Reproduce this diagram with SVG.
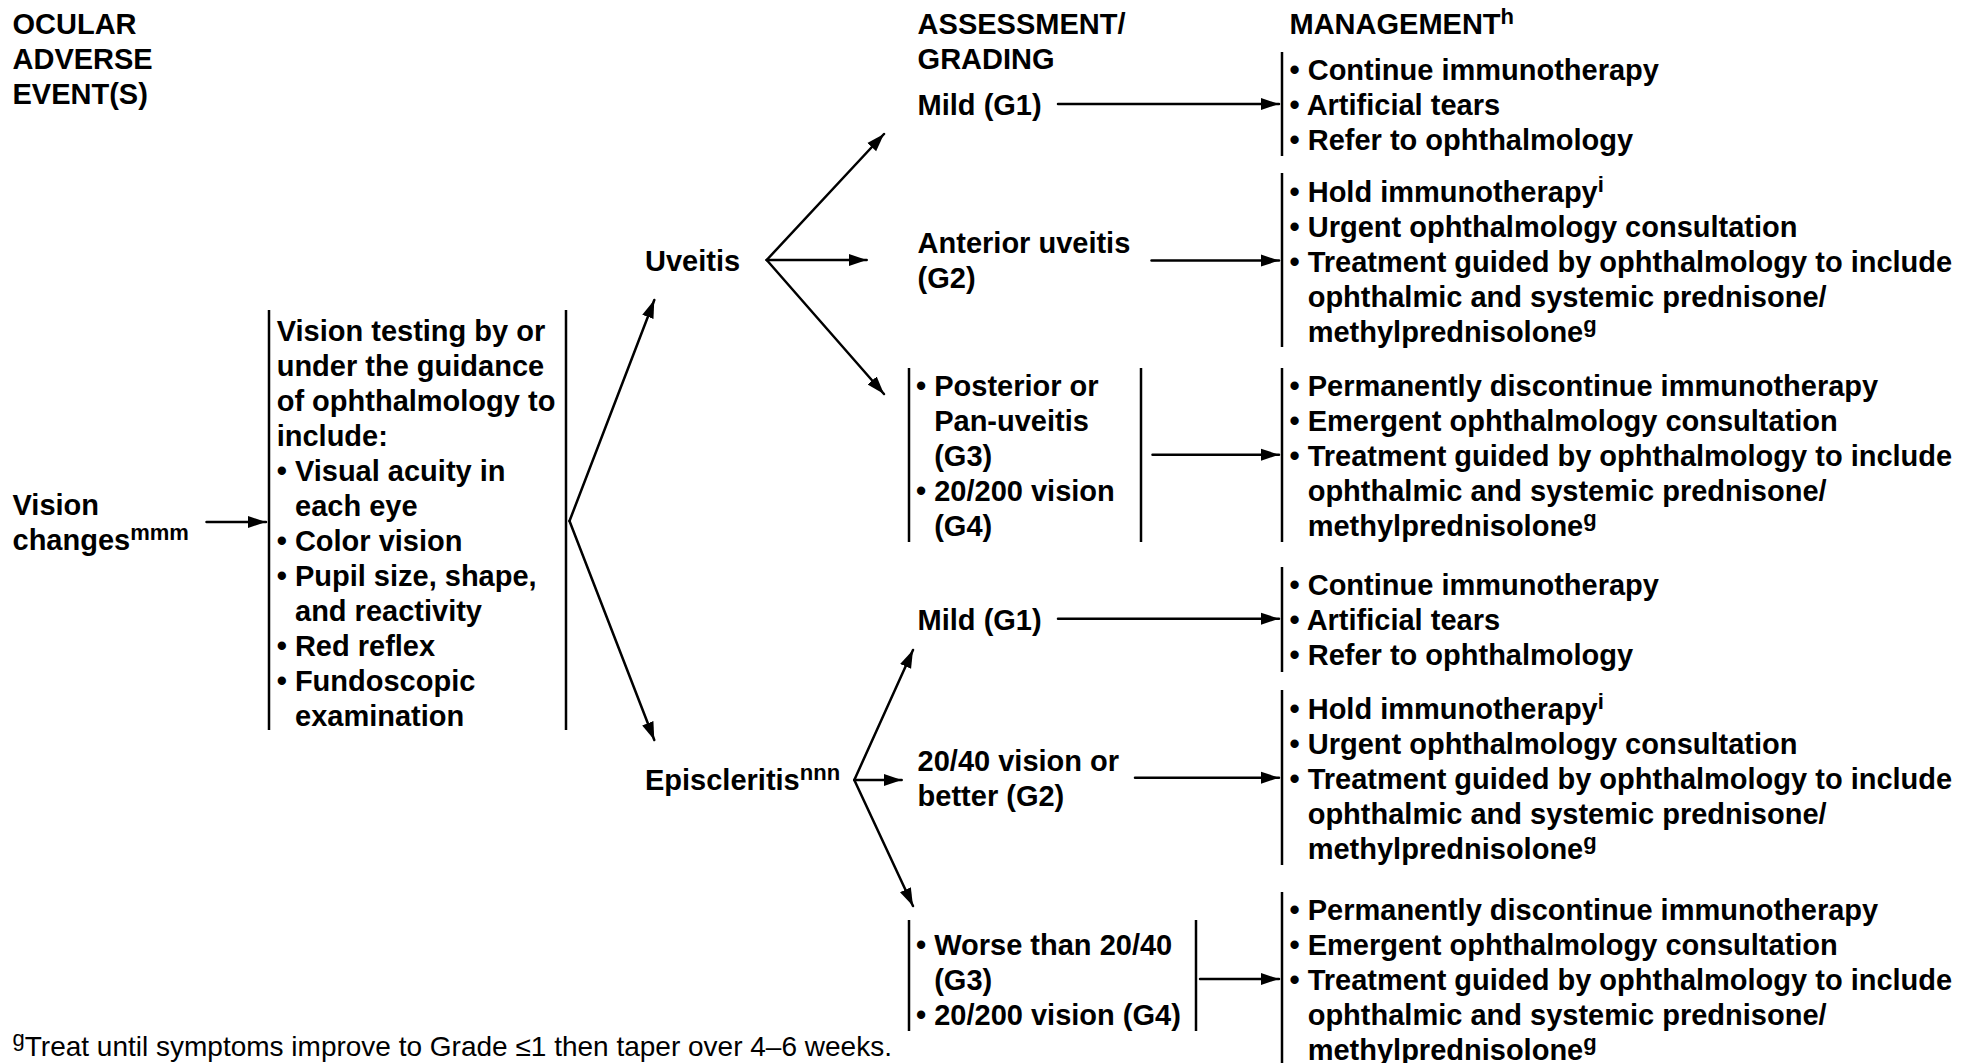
<svg xmlns="http://www.w3.org/2000/svg" width="1963" height="1063" viewBox="0 0 1963 1063">
<defs>
<style>
text{font-family:"Liberation Sans",Arial,Helvetica,sans-serif;font-weight:bold;font-size:29px;fill:#000}
.foot{font-weight:normal;font-size:28px}
.sup{font-size:22px}
.bar{stroke:#000;stroke-width:2.5;fill:none}
.con{stroke:#000;stroke-width:2.5;fill:none;stroke-linecap:round;marker-end:url(#ah)}
</style>
<marker id="ah" markerUnits="userSpaceOnUse" markerWidth="19" markerHeight="13" refX="18" refY="6.5" orient="auto">
<path d="M0,0.5 L18,6.5 L0,12.5 Z" fill="#000"/>
</marker>
</defs>
<rect width="1963" height="1063" fill="#fff"/>

<g id="headers">
<text x="12.5" y="34">OCULAR</text>
<text x="12.5" y="69">ADVERSE</text>
<text x="12.5" y="104">EVENT(S)</text>
<text x="917.6" y="34">ASSESSMENT/</text>
<text x="917.6" y="69">GRADING</text>
<text x="1289.5" y="34">MANAGEMENT<tspan class="sup" dy="-10">h</tspan></text>
</g>

<g id="vision-changes">
<text x="12.5" y="515">Vision</text>
<text x="12.5" y="550">changes<tspan class="sup" dy="-10">mmm</tspan></text>
</g>

<g id="vision-testing">
<line class="bar" x1="269" y1="310" x2="269" y2="730"/>
<line class="bar" x1="566" y1="310" x2="566" y2="730"/>
<text x="276.7" y="340.5">Vision testing by or</text>
<text x="276.7" y="375.6">under the guidance</text>
<text x="276.7" y="410.6">of ophthalmology to</text>
<text x="276.7" y="445.7">include:</text>
<text x="276.7" y="480.7">• Visual acuity in</text>
<text x="295" y="515.8">each eye</text>
<text x="276.7" y="550.8">• Color vision</text>
<text x="276.7" y="585.9">• Pupil size, shape,</text>
<text x="295" y="620.9">and reactivity</text>
<text x="276.7" y="655.9">• Red reflex</text>
<text x="276.7" y="691">• Fundoscopic</text>
<text x="295" y="726">examination</text>
</g>

<g id="uveitis">
<text x="645" y="271">Uveitis</text>
</g>

<g id="episcleritis">
<text x="645" y="790">Episcleritis<tspan class="sup" dy="-10">nnn</tspan></text>
</g>

<g id="uv-g1">
<text x="917.6" y="115">Mild (G1)</text>
</g>
<g id="uv-g2">
<text x="917.6" y="253">Anterior uveitis</text>
<text x="917.6" y="288">(G2)</text>
</g>
<g id="uv-g34">
<line class="bar" x1="909" y1="368" x2="909" y2="542"/>
<line class="bar" x1="1141" y1="368" x2="1141" y2="542"/>
<text x="916" y="395.6">• Posterior or</text>
<text x="934.2" y="430.6">Pan-uveitis</text>
<text x="934.2" y="465.7">(G3)</text>
<text x="916" y="500.7">• 20/200 vision</text>
<text x="934.2" y="535.8">(G4)</text>
</g>

<g id="ep-g1">
<text x="917.6" y="629.7">Mild (G1)</text>
</g>
<g id="ep-g2">
<text x="917.6" y="771">20/40 vision or</text>
<text x="917.6" y="806">better (G2)</text>
</g>
<g id="ep-g34">
<line class="bar" x1="909" y1="920" x2="909" y2="1031"/>
<line class="bar" x1="1196" y1="920" x2="1196" y2="1031"/>
<text x="916" y="955">• Worse than 20/40</text>
<text x="934.2" y="990">(G3)</text>
<text x="916" y="1025">• 20/200 vision (G4)</text>
</g>

<g id="mgmt-uv-g1">
<line class="bar" x1="1282" y1="52" x2="1282" y2="156"/>
<text x="1289.5" y="80">• Continue immunotherapy</text>
<text x="1289.5" y="115">• Artificial tears</text>
<text x="1289.5" y="150">• Refer to ophthalmology</text>
</g>
<g id="mgmt-uv-g2">
<line class="bar" x1="1282" y1="173" x2="1282" y2="347"/>
<text x="1289.5" y="201.5">• Hold immunotherapy<tspan class="sup" dy="-10">i</tspan></text>
<text x="1289.5" y="236.6">• Urgent ophthalmology consultation</text>
<text x="1289.5" y="271.6">• Treatment guided by ophthalmology to include</text>
<text x="1307.7" y="306.7">ophthalmic and systemic prednisone/</text>
<text x="1307.7" y="341.8">methylprednisolone<tspan class="sup" dy="-10">g</tspan></text>
</g>
<g id="mgmt-uv-g34">
<line class="bar" x1="1282" y1="368" x2="1282" y2="542"/>
<text x="1289.5" y="395.6">• Permanently discontinue immunotherapy</text>
<text x="1289.5" y="430.6">• Emergent ophthalmology consultation</text>
<text x="1289.5" y="465.7">• Treatment guided by ophthalmology to include</text>
<text x="1307.7" y="500.7">ophthalmic and systemic prednisone/</text>
<text x="1307.7" y="535.8">methylprednisolone<tspan class="sup" dy="-10">g</tspan></text>
</g>
<g id="mgmt-ep-g1">
<line class="bar" x1="1282" y1="567" x2="1282" y2="672"/>
<text x="1289.5" y="594.6">• Continue immunotherapy</text>
<text x="1289.5" y="629.7">• Artificial tears</text>
<text x="1289.5" y="664.7">• Refer to ophthalmology</text>
</g>
<g id="mgmt-ep-g2">
<line class="bar" x1="1282" y1="690" x2="1282" y2="865"/>
<text x="1289.5" y="718.6">• Hold immunotherapy<tspan class="sup" dy="-10">i</tspan></text>
<text x="1289.5" y="753.6">• Urgent ophthalmology consultation</text>
<text x="1289.5" y="788.7">• Treatment guided by ophthalmology to include</text>
<text x="1307.7" y="823.7">ophthalmic and systemic prednisone/</text>
<text x="1307.7" y="858.8">methylprednisolone<tspan class="sup" dy="-10">g</tspan></text>
</g>
<g id="mgmt-ep-g34">
<line class="bar" x1="1282" y1="892" x2="1282" y2="1063"/>
<text x="1289.5" y="920">• Permanently discontinue immunotherapy</text>
<text x="1289.5" y="955">• Emergent ophthalmology consultation</text>
<text x="1289.5" y="990">• Treatment guided by ophthalmology to include</text>
<text x="1307.7" y="1025">ophthalmic and systemic prednisone/</text>
<text x="1307.7" y="1060">methylprednisolone<tspan class="sup" dy="-10">g</tspan></text>
</g>

<g id="connectors">
<line class="con" x1="206.5" y1="522" x2="266" y2="522"/>
<line class="con" x1="569.5" y1="521" x2="654.3" y2="300"/>
<line class="con" x1="569.5" y1="521" x2="654.3" y2="740"/>
<line class="con" x1="766.7" y1="260" x2="884" y2="134"/>
<line class="con" x1="766.7" y1="260" x2="866.7" y2="260"/>
<line class="con" x1="766.7" y1="260" x2="884" y2="394"/>
<line class="con" x1="854.3" y1="780" x2="913" y2="650"/>
<line class="con" x1="854.3" y1="780" x2="901.7" y2="780"/>
<line class="con" x1="854.3" y1="780" x2="913" y2="906"/>
<line class="con" x1="1058" y1="104" x2="1279" y2="104"/>
<line class="con" x1="1151.5" y1="260.6" x2="1279" y2="260.6"/>
<line class="con" x1="1152.5" y1="454.7" x2="1279" y2="454.7"/>
<line class="con" x1="1058" y1="618.7" x2="1279" y2="618.7"/>
<line class="con" x1="1135" y1="777.7" x2="1279" y2="777.7"/>
<line class="con" x1="1200" y1="979" x2="1279" y2="979"/>
</g>

<g id="footnote">
<text class="foot" x="12.5" y="1056"><tspan class="sup" dy="-10">g</tspan><tspan dy="10">Treat until symptoms improve to Grade ≤1 then taper over 4–6 weeks.</tspan></text>
</g>
</svg>
